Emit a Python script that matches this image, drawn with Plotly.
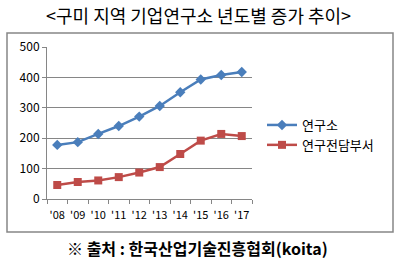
import plotly.graph_objects as go

years = ["'08", "'09", "'10", "'11", "'12", "'13", "'14", "'15", "'16", "'17"]
labs = [178, 187, 214, 240, 271, 306, 351, 393, 408, 418]
dept = [46, 56, 61, 72, 87, 105, 148, 192, 214, 207]
y_ticks = [0, 100, 200, 300, 400, 500]

KR = "Noto Sans CJK KR, Dotum, sans-serif"
W, H = 404, 267
L, R, T, B = 47, 252, 47, 199
pw, ph = R - L, B - T

def px(x):
    return (x - L) / pw

def py(y):
    return (B - y) / ph

fig = go.Figure()
fig.add_trace(go.Scatter(x=years, y=labs, name="연구소", mode="lines+markers",
                         line=dict(color="#4A7EBB", width=2.5),
                         marker=dict(symbol="diamond", size=8, color="#4A7EBB")))
fig.add_trace(go.Scatter(x=years, y=dept, name="연구전담부서", mode="lines+markers",
                         line=dict(color="#BE4B48", width=2.5),
                         marker=dict(symbol="square", size=8, color="#BE4B48")))

fig.update_layout(
    width=W, height=H,
    margin=dict(l=L, r=W - R, t=T, b=H - B),
    paper_bgcolor="white", plot_bgcolor="white",
    font=dict(family=KR, size=11, color="#000000"),
    showlegend=True,
    legend=dict(x=px(262), y=py(110), xanchor="left", yanchor="top",
                font=dict(size=13, family=KR), bgcolor="rgba(0,0,0,0)",
                tracegroupgap=0, itemwidth=30),
    xaxis=dict(type="category", tickson="boundaries", ticks="outside", ticklen=4,
               tickcolor="#868686", showline=True, linecolor="#868686", linewidth=1,
               showgrid=False, tickangle=0, tickfont=dict(size=11, family=KR),
               ticklabelstandoff=6, range=[-0.5, 9.5]),
    yaxis=dict(range=[0, 500], tickvals=y_ticks, ticks="outside", ticklen=4,
               tickcolor="#868686", showline=True, linecolor="#868686", linewidth=1,
               showgrid=True, gridcolor="#868686", gridwidth=1, zeroline=False,
               tickfont=dict(size=12, family=KR)),
    shapes=[dict(type="rect", xref="paper", yref="paper",
                 x0=px(7), x1=px(393), y0=py(232), y1=py(33),
                 line=dict(color="#868686", width=1.5), fillcolor="rgba(0,0,0,0)",
                 layer="below")],
    annotations=[
        dict(text="<구미 지역 기업연구소 년도별 증가 추이>", xref="paper", yref="paper",
             x=px(198), y=py(15), xanchor="center", yanchor="middle", showarrow=False,
             font=dict(size=18, family=KR, color="#000000")),
        dict(text="<b>※ 출처 : 한국산업기술진흥협회(koita)</b>", xref="paper", yref="paper",
             x=px(197), y=py(248), xanchor="center", yanchor="middle", showarrow=False,
             font=dict(size=16, family=KR, color="#000000")),
    ],
)

fig.write_html("out.html")
